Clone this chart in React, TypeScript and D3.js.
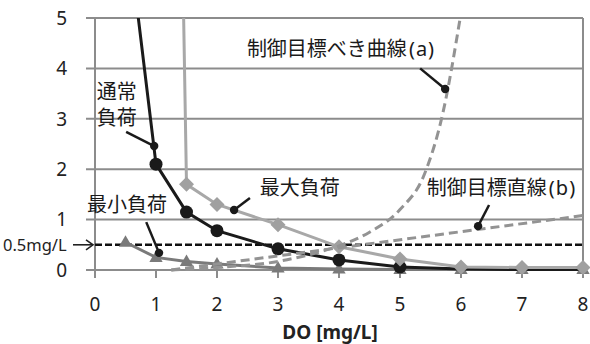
import React from "react";
import * as d3 from "d3";

// 通常負荷 (black, circles)
const normalX = [0.5, 1, 1.5, 2, 3, 4, 5, 6, 7, 8];
const normalY = [7.1, 2.1, 1.15, 0.78, 0.42, 0.2, 0.06, 0.02, 0.01, 0.01];
// 最大負荷 (light grey, diamonds)
const maxX = [1, 1.5, 2, 3, 4, 5, 6, 7, 8];
const maxY = [37, 1.7, 1.3, 0.9, 0.46, 0.22, 0.06, 0.05, 0.05];
// 最小負荷 (dark grey, triangles)
const minX = [0.5, 1, 1.5, 2, 3, 4, 5, 6, 7, 8];
const minY = [0.55, 0.25, 0.17, 0.12, 0.04, 0.02, 0.01, 0.01, 0.01, 0.01];
// 制御目標べき曲線(a)
const curveAX = [1.25, 2, 3, 3.5, 4, 4.5, 5, 5.4, 5.7, 6];
const curveAY = [0, 0.05, 0.17, 0.3, 0.48, 0.75, 1.2, 1.9, 3.1, 5.1];
// 制御目標直線(b)
const lineBX = [1.25, 8];
const lineBY = [0, 1.08];

const xTicks = [0, 1, 2, 3, 4, 5, 6, 7, 8];
const yTicks = [0, 1, 2, 3, 4, 5];
const limitValue = 0.5;
const limitLabel = "0.5mg/L";
const xTitle = "DO [mg/L]";

const width = 590;
const height = 344;
const left = 95;
const right = 583;
const top = 18;
const bottom = 270;

const font = "'Noto Sans', 'Noto Sans CJK JP', sans-serif";

const x = d3.scaleLinear().domain([0, 8]).range([left, right]);
const y = d3.scaleLinear().domain([0, 5]).range([bottom, top]);

type Pt = [number, number];
const zip = (xs: number[], ys: number[]): Pt[] => xs.map((v, i) => [v, ys[i]]);

const straight = d3
	.line<Pt>()
	.x((d) => x(d[0]))
	.y((d) => y(d[1]));
const smooth = d3
	.line<Pt>()
	.x((d) => x(d[0]))
	.y((d) => y(d[1]))
	.curve(d3.curveMonotoneX);

// label text, start position and pointer (all in data units)
const labels = [
	{ lines: ["制御目標べき曲線(a)"], tx: 2.49, ty: 4.39, from: [5.33, 4.0], to: [5.74, 3.59] },
	{ lines: ["通常", "負荷"], tx: 0.03, ty: 3.53, from: [0.51, 2.74], to: [0.97, 2.46] },
	{ lines: ["最大負荷"], tx: 2.7, ty: 1.63, from: [2.54, 1.43], to: [2.28, 1.19] },
	{ lines: ["最小負荷"], tx: -0.13, ty: 1.29, from: [0.84, 0.95], to: [1.05, 0.34] },
	{ lines: ["制御目標直線(b)"], tx: 5.44, ty: 1.63, from: [6.46, 1.29], to: [6.28, 0.87] },
];

const gridColor = "#8c8c8c";
const dashGrey = "#939393";

// the "(a)" part sits a touch wider, like in the original
function LabelText({ s }: { s: string }) {
	const k = s.indexOf("(");
	if (k < 0) return <>{s}</>;
	return (
		<>
			{s.slice(0, k)}
			<tspan letterSpacing={1} dx={2}>
				{s.slice(k)}
			</tspan>
		</>
	);
}

export default function App() {
	const normal = zip(normalX, normalY);
	const maxLoad = zip(maxX, maxY);
	const minLoad = zip(minX, minY);
	const curveA = zip(curveAX, curveAY);
	const lineB = zip(lineBX, lineBY);

	const diamond = (cx: number, cy: number, r: number) =>
		`M${cx},${cy - r}L${cx + r},${cy}L${cx},${cy + r}L${cx - r},${cy}Z`;
	const tri = (cx: number, cy: number, r: number) =>
		`M${cx},${cy - r}L${cx + r * 0.95},${cy + r * 0.65}L${cx - r * 0.95},${cy + r * 0.65}Z`;

	const ly = y(limitValue);

	return (
		<svg
			width={width}
			height={height}
			style={{ position: "absolute", left: 0, top: 0, background: "#fff" }}
			fontFamily={font}
		>
			<defs>
				<clipPath id="plot">
					<rect x={left - 12} y={top} width={right - left + 24} height={height - top} />
				</clipPath>
			</defs>

			{/* grid */}
			{yTicks.map((t) => (
				<line key={"g" + t} x1={left - 9} x2={right} y1={y(t)} y2={y(t)} stroke={gridColor} strokeWidth={2} />
			))}
			<line x1={left} x2={left} y1={top} y2={bottom + 8} stroke={gridColor} strokeWidth={2} />
			<line x1={right} x2={right} y1={top} y2={bottom + 8} stroke={gridColor} strokeWidth={2} />
			{xTicks.map((t) => (
				<line key={"t" + t} x1={x(t)} x2={x(t)} y1={bottom} y2={bottom + 8} stroke={gridColor} strokeWidth={2} />
			))}

			{/* tick labels */}
			{yTicks.map((t) => (
				<text key={"yl" + t} x={67} y={y(t)} dy="0.36em" textAnchor="end" fontSize={19} fill="#222">
					{t}
				</text>
			))}
			{xTicks.map((t) => (
				<text key={"xl" + t} x={x(t)} y={304} dy="0.36em" textAnchor="middle" fontSize={19} fill="#222">
					{t}
				</text>
			))}
			<text x={330} y={332} dy="0.36em" textAnchor="middle" fontSize={19} fontWeight="bold" fill="#222">
				{xTitle}
			</text>

			{/* 0.5 mg/L limit */}
			<line x1={left} x2={right} y1={ly} y2={ly} stroke="#111" strokeWidth={2.6} strokeDasharray="7,3" />
			<text x={3} y={ly} dy="0.36em" fontSize={16.5} fill="#222">
				{limitLabel}
			</text>
			<line x1={73} x2={left - 2} y1={ly} y2={ly} stroke="#222" strokeWidth={1.6} />
			<path d={`M${left - 9},${ly - 5}L${left - 2},${ly}L${left - 9},${ly + 5}`} fill="none" stroke="#222" strokeWidth={1.6} />

			<g clipPath="url(#plot)">
				{/* 最小負荷 */}
				<path d={straight(minLoad) ?? ""} fill="none" stroke="#7a7a7a" strokeWidth={3} />
				{minLoad.map((d, i) => (
					<path key={"mn" + i} d={tri(x(d[0]), y(d[1]), 7)} fill="#7a7a7a" />
				))}

				{/* 通常負荷 */}
				<path d={straight(normal) ?? ""} fill="none" stroke="#1a1a1a" strokeWidth={3} />
				{normal
					.filter((d) => d[0] >= 1 && d[0] <= 5)
					.map((d, i) => (
						<circle key={"nm" + i} cx={x(d[0])} cy={y(d[1])} r={6.5} fill="#1a1a1a" />
					))}

				{/* 最大負荷 */}
				<path d={straight(maxLoad) ?? ""} fill="none" stroke="#a8a8a8" strokeWidth={3} />
				{maxLoad
					.filter((d) => d[0] >= 1.5)
					.map((d, i) => (
						<path key={"mx" + i} d={diamond(x(d[0]), y(d[1]), 7.5)} fill="#a0a0a0" />
					))}

				{/* dashed targets */}
				<path d={smooth(curveA) ?? ""} fill="none" stroke={dashGrey} strokeWidth={3} strokeDasharray="9,5" />
				<path d={straight(lineB) ?? ""} fill="none" stroke={dashGrey} strokeWidth={3} strokeDasharray="9,5" />
			</g>

			{/* labels with pointers */}
			{labels.map((l, i) => (
				<g key={"lb" + i}>
					{l.lines.map((s, j) => (
						<text key={j} x={x(l.tx)} y={y(l.ty) + j * 26} dy="0.36em" fontSize={20} fill="#1a1a1a">
							<LabelText s={s} />
						</text>
					))}
					<line
						x1={x(l.from[0])}
						y1={y(l.from[1])}
						x2={x(l.to[0])}
						y2={y(l.to[1])}
						stroke="#1a1a1a"
						strokeWidth={2.5}
					/>
					<circle cx={x(l.to[0])} cy={y(l.to[1])} r={4.2} fill="#1a1a1a" />
				</g>
			))}
		</svg>
	);
}
